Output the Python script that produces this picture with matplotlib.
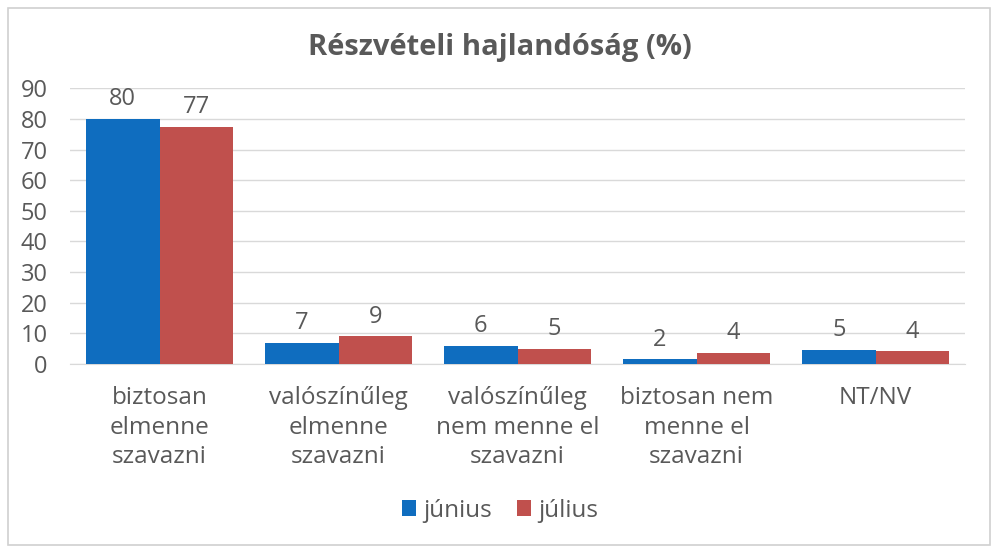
import matplotlib
matplotlib.use("Agg")
import matplotlib.pyplot as plt
import numpy as np
from matplotlib.patches import Rectangle

categories = ["biztosan\nelmenne\nszavazni", "valószínűleg\nelmenne\nszavazni",
              "valószínűleg\nnem menne el\nszavazni", "biztosan nem\nmenne el\nszavazni",
              "NT/NV"]
junius = [80, 7, 6, 1.5, 4.7]
julius = [77.4, 9, 5, 3.6, 4.2]
series_names = ["június", "július"]
yticks = list(range(0, 100, 10))

blue = "#0f6dbf"
red = "#c0504d"
gray = "#595959"
plt.rcParams["font.family"] = ["Open Sans", "DejaVu Sans"]

fig = plt.figure(figsize=(10, 5.55), dpi=100)
fig.patches.append(Rectangle((0.008, 0.018), 0.982, 0.968, transform=fig.transFigure,
                             fill=False, edgecolor="#d0d0d0", linewidth=1.2))
ax = fig.add_axes([0.07, 0.344, 0.895, 0.497])

x = np.arange(len(categories))
w = 0.41
b1 = ax.bar(x - w / 2, junius, w, color=blue, label=series_names[0], zorder=3)
b2 = ax.bar(x + w / 2, julius, w, color=red, label=series_names[1], zorder=3)
for bars in (b1, b2):
    for r in bars:
        h = r.get_height()
        ax.text(r.get_x() + r.get_width() / 2, h + 2.5, "%.0f" % h, ha="center", va="bottom",
                fontsize=17, color=gray)

ax.set_xlim(-0.5, len(categories) - 0.5)
ax.set_ylim(0, 90)
ax.set_yticks(yticks)
ax.yaxis.grid(True, color="#d9d9d9", linewidth=1, zorder=0)
for s in ["top", "right", "left"]:
    ax.spines[s].set_visible(False)
ax.spines["bottom"].set_color("#d9d9d9")
ax.tick_params(axis="both", length=0, colors=gray, labelsize=17)
ax.tick_params(axis="y", pad=16)
ax.tick_params(axis="x", pad=16, labelsize=17.5)
ax.set_xticks(x)
ax.set_xticklabels(categories, linespacing=1.3)

fig.text(0.5, 0.915, "Részvételi hajlandóság (%)", ha="center", va="center",
         fontsize=21, fontweight="bold", color=gray)
fig.legend(loc="center", bbox_to_anchor=(0.5, 0.08), ncol=2, frameon=False,
           fontsize=17.5, labelcolor=gray, handlelength=0.6, handleheight=0.6,
           handletextpad=0.3, columnspacing=1.0)

fig.savefig("out.png", dpi=100)
